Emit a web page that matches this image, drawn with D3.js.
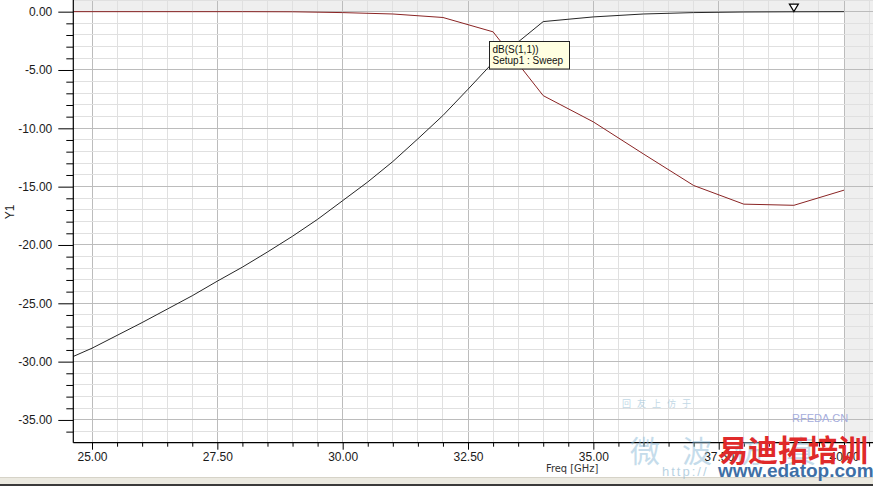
<!DOCTYPE html>
<html>
<head>
<meta charset="utf-8">
<script src="https://cdn.jsdelivr.net/npm/d3@7"></script>
<style>
  html, body { margin: 0; padding: 0; background: #fff; }
  svg { display: block; font-family: Arial, "Liberation Sans", sans-serif; }
</style>
</head>
<body>
<svg id="chart" width="873" height="486"></svg>
<script>
// ---- data ----
const freqS21 = [24.63, 25, 25.5, 26, 26.5, 27, 27.5, 28, 28.5, 29, 29.5, 30, 30.5, 31, 31.5, 32, 32.5, 33, 34, 35, 36, 37, 38, 39, 40];
const dbS21   = [-29.55, -28.85, -27.75, -26.65, -25.5, -24.35, -23.1, -21.9, -20.6, -19.25, -17.8, -16.2, -14.6, -12.85, -10.9, -8.9, -6.65, -4.35, -0.85, -0.45, -0.2, -0.08, -0.03, -0.01, 0];
const freqS11 = [24.63, 25, 26, 27, 28, 29, 30, 31, 32, 33, 34, 35, 36, 37, 38, 39, 40];
const dbS11   = [0, 0, 0, 0, 0, -0.01, -0.08, -0.2, -0.5, -1.73, -7.2, -9.45, -12.2, -14.9, -16.5, -16.6, -15.3];
const xTickValues = [25, 27.5, 30, 32.5, 35, 37.5, 40];
const yTickValues = [0, -5, -10, -15, -20, -25, -30, -35];
const markerFreq = 39;
const tooltipLines = ["dB(S(1,1))", "Setup1 : Sweep"];
const xLabel = "Freq [GHz]";
const yLabel = "Y1";

// ---- layout ----
const svg = d3.select("#chart");
const L = 73.3, R = 873, T = 0, B = 442.7;
const x = d3.scaleLinear().domain([24.627, 40.578]).range([L, R]);
const y = d3.scaleLinear().domain([1.0, -36.95]).range([T, B]);

const xMinor = d3.range(25, 40.6, 0.5);
const yMinor = d3.range(1, -37, -1);

// plot background: grey outside data range, white inside
svg.append("rect").attr("x", L).attr("y", T).attr("width", R - L).attr("height", B - T).attr("fill", "#efefef");
svg.append("rect").attr("x", L).attr("y", y(0)).attr("width", x(40) - L).attr("height", B - y(0)).attr("fill", "#ffffff");

// grid
const grid = svg.append("g");
grid.selectAll(".vx").data(xMinor).enter().append("line")
  .attr("x1", d => x(d)).attr("x2", d => x(d)).attr("y1", T).attr("y2", B)
  .attr("stroke", d => xTickValues.includes(d) ? "#bcbcbc" : "#e0e0e0").attr("stroke-width", 1)
  .attr("shape-rendering", "crispEdges");
grid.selectAll(".hy").data(yMinor).enter().append("line")
  .attr("x1", L).attr("x2", R).attr("y1", d => y(d)).attr("y2", d => y(d))
  .attr("stroke", d => (d % 5 === 0) ? "#bcbcbc" : "#e0e0e0").attr("stroke-width", 1)
  .attr("shape-rendering", "crispEdges");

// curves
const line = d3.line().x(d => x(d[0])).y(d => y(d[1]));
svg.append("path").datum(freqS21.map((f, i) => [f, dbS21[i]]))
  .attr("d", line).attr("fill", "none").attr("stroke", "#262626").attr("stroke-width", 1);
svg.append("path").datum(freqS11.map((f, i) => [f, dbS11[i]]))
  .attr("d", line).attr("fill", "none").attr("stroke", "#8a2424").attr("stroke-width", 1);

// axes
const fmt = d => (Math.abs(d) < 1e-9 ? 0 : d).toFixed(2);
const yAxisMinor = d3.axisLeft(y).tickValues(yMinor.filter(d => d % 5 !== 0 && d <= 0)).tickSize(7).tickFormat("");
const yAxisMajor = d3.axisLeft(y).tickValues(yTickValues).tickSize(15).tickPadding(6).tickFormat(fmt);
const gy1 = svg.append("g").attr("transform", `translate(${L},0)`).call(yAxisMinor);
const gy2 = svg.append("g").attr("transform", `translate(${L},0)`).call(yAxisMajor);
[gy1, gy2].forEach(g => {
  g.select(".domain").remove();
  g.selectAll("line").attr("stroke", "#000");
});
gy2.selectAll("text").attr("font-size", 12).attr("fill", "#1a1a1a").attr("font-family", "Arial, 'Liberation Sans', sans-serif");
svg.append("line").attr("x1", L).attr("x2", L).attr("y1", T).attr("y2", B).attr("stroke", "#000").attr("stroke-width", 1.2);

const xAxisMinor = d3.axisBottom(x).tickValues(xMinor.filter(d => !xTickValues.includes(d))).tickSize(4).tickFormat("");
const xAxisMajor = d3.axisBottom(x).tickValues(xTickValues).tickSize(7).tickPadding(3).tickFormat(fmt);
const gx1 = svg.append("g").attr("transform", `translate(0,${B})`).call(xAxisMinor);
const gx2 = svg.append("g").attr("transform", `translate(0,${B})`).call(xAxisMajor);
[gx1, gx2].forEach(g => {
  g.select(".domain").remove();
  g.selectAll("line").attr("stroke", "#000");
});
gx2.selectAll("text").attr("font-size", 12).attr("fill", "#1a1a1a").attr("font-family", "Arial, 'Liberation Sans', sans-serif");
svg.append("line").attr("x1", L).attr("x2", R).attr("y1", B).attr("y2", B).attr("stroke", "#000").attr("stroke-width", 1.2);

// axis titles
svg.append("text").attr("x", 546).attr("y", 472).attr("font-size", 11).attr("fill", "#333")
  .attr("font-family", "'DejaVu Sans Condensed', Arial, sans-serif").text(xLabel);
svg.append("text").attr("transform", "translate(14,212) rotate(-90)").attr("text-anchor", "middle")
  .attr("font-size", 12).attr("fill", "#222").text(yLabel);

// marker triangle
const mx = x(markerFreq), my = y(0);
svg.append("path").attr("d", `M${mx - 4.5},${my - 7.5} L${mx + 4.5},${my - 7.5} L${mx},${my} Z`)
  .attr("fill", "#fff").attr("stroke", "#000").attr("stroke-width", 1.2);

// tooltip
const tip = svg.append("g").attr("transform", "translate(489.5,41.5)");
tip.append("rect").attr("width", 80).attr("height", 27.5).attr("fill", "#ffffe1").attr("stroke", "#222").attr("stroke-width", 1);
tip.selectAll("text").data(tooltipLines).enter().append("text")
  .attr("x", 3).attr("y", (d, i) => 11 + i * 11).attr("font-size", 10).attr("fill", "#111").text(d => d);

// bottom window frame
svg.append("rect").attr("x", 0).attr("y", 477).attr("width", 873).attr("height", 7).attr("fill", "#ebe9e0");
svg.append("line").attr("x1", 0).attr("x2", 873).attr("y1", 477.5).attr("y2", 477.5).attr("stroke", "#d6d3c8");
svg.append("rect").attr("x", 0).attr("y", 484).attr("width", 873).attr("height", 2).attr("fill", "#3a3a3a");

// watermark overlay
const wm = svg.append("g").attr("pointer-events", "none");
wm.append("text").attr("x", 630).attr("y", 462).attr("font-size", 30).attr("fill", "#8cbbd8").attr("opacity", 0.5)
  .attr("font-family", "'Noto Sans CJK SC', sans-serif").attr("letter-spacing", 22).text("微波仿真");
wm.append("text").attr("x", 622).attr("y", 407).attr("font-size", 9).attr("fill", "#9bbfd6").attr("opacity", 0.6)
  .attr("font-family", "'Noto Sans CJK SC', sans-serif").attr("letter-spacing", 6).text("回友上仿于");
wm.append("text").attr("x", 792).attr("y", 422).attr("font-size", 11).attr("fill", "#a6addc").text("RFEDA.CN");
wm.append("text").attr("x", 662).attr("y", 476).attr("font-size", 13).attr("fill", "#9bbfd6").attr("opacity", 0.7)
  .attr("letter-spacing", 2).text("http://");
wm.append("text").attr("x", 718).attr("y", 461).attr("font-size", 30).attr("font-weight", "bold").attr("fill", "#e02a2a")
  .attr("font-family", "'Noto Sans CJK SC', sans-serif").text("易迪拓培训");
wm.append("text").attr("x", 718).attr("y", 477).attr("font-size", 19).attr("font-weight", "bold").attr("fill", "#3e6fa6")
  .attr("font-family", "Arial, 'Liberation Sans', sans-serif").text("www.edatop.com");
</script>
</body>
</html>
